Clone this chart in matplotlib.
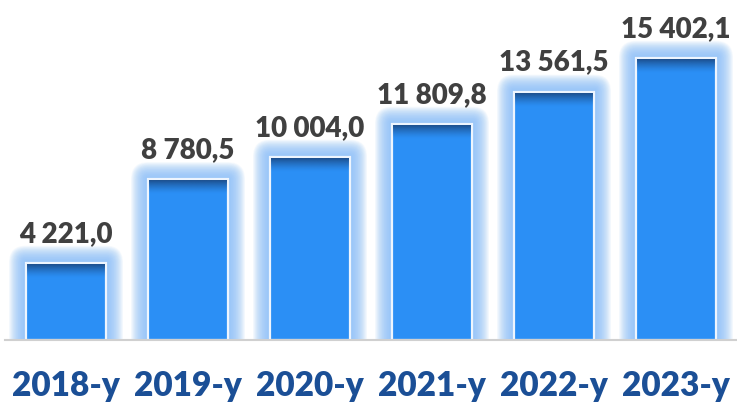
import matplotlib
matplotlib.use("Agg")
import matplotlib.pyplot as plt
import numpy as np
from matplotlib.patches import FancyBboxPatch
from matplotlib.colors import to_rgba

categories = ["2018-y", "2019-y", "2020-y", "2021-y", "2022-y", "2023-y"]
values = [4221.0, 8780.5, 10004.0, 11809.8, 13561.5, 15402.1]
labels = ["4 221,0", "8 780,5", "10 004,0", "11 809,8", "13 561,5", "15 402,1"]

W, H, DPI = 737, 407, 100
fig = plt.figure(figsize=(W / DPI, H / DPI), dpi=DPI)
base_px = 67  # baseline from bottom
ax = fig.add_axes([0, base_px / H, 1, 1 - base_px / H])
xlim = (-66 / 122, (W - 66) / 122)
ylim = (0, 340 / 0.01832)
ax.set_xlim(*xlim)
ax.set_ylim(*ylim)
ax.axis("off")

ax_w_px = W
ax_h_px = H - base_px
px_x = (xlim[1] - xlim[0]) / ax_w_px
px_y = (ylim[1] - ylim[0]) / ax_h_px

bar_w = 80 / 122
x = np.arange(len(categories))
glow = "#8CC0F8"
bar_color = "#2B8FF5"
font = "Lato"

# soft glow with rounded corners (drawn in pixel space via data offsets)
n = 24
for xi, v in zip(x, values):
    for k in range(n):
        e = 17 * (1 - k / n)
        rad = e
        # rounded box; pad handled by explicit geometry
        p = FancyBboxPatch((xi - bar_w / 2 - e * px_x + rad * px_x, 0),
                           bar_w + 2 * e * px_x - 2 * rad * px_x,
                           v + e * px_y - rad * px_y,
                           boxstyle=f"round,pad={rad * px_x:.5f}",
                           mutation_aspect=px_y / px_x,
                           facecolor=glow, edgecolor="none", alpha=0.075, zorder=1)
        ax.add_patch(p)

bars = ax.bar(x, values, width=bar_w, color=bar_color, edgecolor="#EEF5FE",
              linewidth=1.6, zorder=3)

# top dark gradient
grad_h = 15 * px_y
grad = np.zeros((60, 1, 4))
c = to_rgba("#1B4A86")
grad[..., 0] = c[0]
grad[..., 1] = c[1]
grad[..., 2] = c[2]
grad[:, 0, 3] = np.linspace(0, 0.95, 60) ** 1.4
for xi, v in zip(x, values):
    ax.imshow(grad, extent=(xi - bar_w / 2 + 1 * px_x, xi + bar_w / 2 - 1 * px_x,
                            v - grad_h, v - 1.2 * px_y),
              origin="lower", aspect="auto", zorder=4, interpolation="bilinear")

ax.set_xlim(*xlim)
ax.set_ylim(*ylim)

# baseline
ax.plot([xlim[0] + 5 * px_x, xlim[1]], [0, 0], color="#D0D0D0", lw=1.5,
        zorder=5, clip_on=False)

for xi, v, lab in zip(x, values, labels):
    ax.text(xi, v + 16 * px_y, lab, ha="center", va="bottom", fontsize=20,
            fontweight="heavy", color="#404040", family=font, zorder=6)

for xi, cat in zip(x, categories):
    fig.text((66 + 122 * xi) / W, 1 - 386 / H, cat, ha="center", va="center",
             fontsize=24, fontweight="heavy", color="#1B4F96", family=font)

fig.savefig("out.png", dpi=DPI)
